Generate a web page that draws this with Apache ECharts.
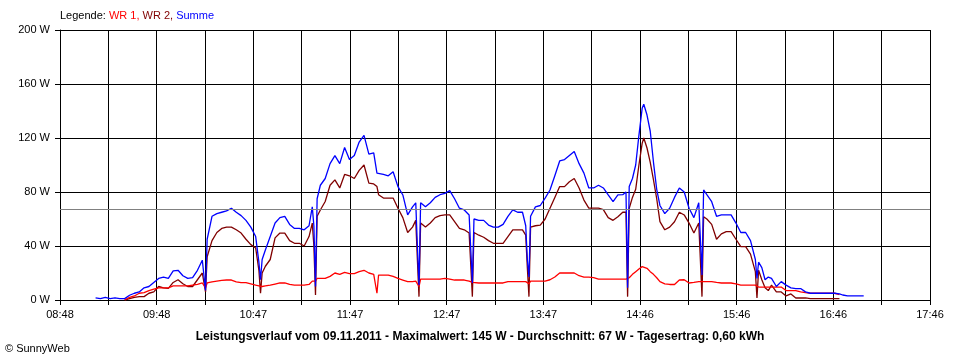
<!DOCTYPE html>
<html>
<head>
<meta charset="utf-8">
<script src="https://cdn.jsdelivr.net/npm/echarts@6/dist/echarts.min.js"></script>
<style>
html,body{margin:0;padding:0;background:#fff;}
#chart{width:960px;height:360px;}
</style>
</head>
<body>
<div id="chart"></div>
<script>
// ---- data ----
const axisStart = "08:48";
const axisEnd = "17:46";
const tickCount = 18;
const tickLabels = ["08:48","09:48","10:47","11:47","12:47","13:47","14:46","15:46","16:46","17:46"];
const yMax = 200;
const yInterval = 40;

const dateText = "09.11.2011";
const maxValue = 145;
const average = 67;
const dailyYield = "0,60";

const times = ["09:10","09:13","09:16","09:19","09:22","09:25","09:28","09:31","09:34","09:37","09:40","09:43","09:46","09:49","09:52","09:55","09:58","10:01","10:04","10:07","10:10","10:13","10:16","10:18","10:19","10:22","10:25","10:28","10:31","10:34","10:37","10:40","10:43","10:46","10:49","10:51","10:52","10:53","10:55","10:58","11:01","11:04","11:07","11:10","11:13","11:16","11:19","11:22","11:24","11:25","11:26","11:27","11:29","11:32","11:35","11:38","11:41","11:44","11:47","11:50","11:53","11:56","11:59","12:02","12:04","12:05","12:08","12:11","12:14","12:17","12:20","12:23","12:26","12:28","12:29","12:30","12:31","12:34","12:37","12:40","12:43","12:46","12:49","12:52","12:55","12:58","13:01","13:03","13:04","13:07","13:10","13:13","13:16","13:19","13:22","13:25","13:28","13:31","13:34","13:36","13:37","13:38","13:39","13:42","13:45","13:48","13:51","13:54","13:57","14:00","14:03","14:06","14:09","14:12","14:15","14:18","14:21","14:24","14:27","14:30","14:33","14:36","14:38","14:39","14:40","14:42","14:44","14:46","14:48","14:49","14:51","14:53","14:55","14:57","14:59","15:02","15:05","15:08","15:11","15:14","15:17","15:20","15:23","15:25","15:26","15:28","15:31","15:34","15:37","15:40","15:43","15:46","15:49","15:52","15:55","15:58","15:59","16:00","16:02","16:04","16:06","16:08","16:11","16:14","16:17","16:20","16:23","16:26","16:29","16:32","16:35","16:38","16:41","16:44","16:47","16:50","16:52","16:55","16:58","17:01","17:04","17:05"];

// WR 1 (red)
const wr1 = [null,null,null,null,null,null,0,2,3,5,5.5,7,8,9,9,9,10.4,10.4,10.4,10.4,11,11.5,12.6,9,12.6,13.5,14,14.5,14.8,14.8,13.5,12.8,12.8,12,11,10.5,10,10,10.4,11,11.8,12.6,12.6,11.5,11,11,11,11.5,14,14.8,14,16,16,16,17.5,20,19,20.5,19.5,19.5,21,22,20,19,5,18.5,18.5,18.5,17.5,16,14.8,13.6,13.6,14,14,10,15.5,15.5,15.5,15.5,15.5,16,15.5,14.8,14.8,14.8,14,13,13.6,12.6,12.6,12.6,12.6,12.6,12.6,13.6,13.6,13.6,13.6,13.6,13,12,14,14,14,14,15,17,20,20,20,20,18,17,17,16.5,15.5,15.5,15.5,15.5,15.5,15.5,15.5,16,16.5,19,21,23,24.7,24.7,23.5,21,19,16.5,13.6,12,11.5,11.5,14.8,15,12.6,13,13.6,13.6,13.6,13.6,13.6,13,12.6,12.6,12.6,12,11,11,11,11,10.5,9.6,9.6,9.6,9.6,9.6,9.6,9.6,7,7,7,6,5.4,5,5,5,5,5,5,4,null,null,null,null,null,null];

// WR 2 (dark red)
const wr2 = [null,null,null,null,null,null,0,1,2,2.5,2.5,5,6,10,9,8.6,13,15,12,10,10,15,20,6,32,44,50,53,54,54,52,49.6,45,41,38.5,22,5,20,25,30,46,49.6,49.6,44,42,42,40,47,57,40,3.7,62,66.7,73,85,89,83,93,92,90,96,100,86.6,86,84,78,75.5,75.5,75.5,68,61,50,54,59,30,2.5,57,54,57,61,62.5,63,63,58,53,52,49.6,2.5,50,48,46.5,44,42,42,42,47,52,52,52,48,24,2.5,54,55,55.5,60,68,76,84,84,87.6,90,83,74,68,68,68,67,61,59,61.7,65,65,2.5,68,76,82,100,116,120,112.6,102,89,75,58,52,54,58,65,63,57,49.6,57,2.5,61.7,60,56,45,49,50.6,50.6,45,39.5,39.5,34,21,1.5,22,15,9,7,11,6,6,3,4.5,1.5,1.5,1.5,1,1,1,1,1,1,1,null,null,null,null,null,null];

// Summe (blue)
const summe = [1.5,1,2,1,1.5,1,1,3.5,5,6,9,10,13,16,17,16,21.5,22,18,16,16.5,22,29.5,7,45,62,64,65,66,68,65,62.5,59,54,47,28,15,30,37,47,57,61,62,56,53,53,52,55,69,55,10,75,85,90,101,107,101,113,104,107,117,122,108,109,94,95,93,92,95,84,77.8,63,69,72,40,11,72,69,72,76,78,79,81,75,68,66.7,63,12.6,60,59,59,55.5,54,54,56,62,66.7,65,65,55,30,17,62,69,70,75.5,81.5,92,103,104,107,110,101,94,83,83,85,83,77.8,72.8,77.8,78,80,9,84,90,100,122,142,145,137,125,102,82,70,64,68,76,83,80,68,61,72,18.5,81.5,78,72.8,62,63,63,63,57,50,50,44,30,16,28,24,15,17,16,10,13.6,11,9,8.5,8.5,6,5,5,5,5,5,5,4.5,3.7,3,3,3,3,3,0];

// ---- build ----
function toMin(s){const p=s.split(':');return (+p[0])*60+(+p[1]);}
const t0 = toMin(axisStart);
const span = toMin(axisEnd) - t0;
const iv = span / tickCount;
function pairs(vals){
  const out=[];
  for(let i=0;i<times.length;i++){ if(vals[i]!==null && vals[i]!==undefined) out.push([toMin(times[i])-t0, vals[i]]); }
  return out;
}
const FONT = '"Liberation Sans", Arial, sans-serif';
const chart = echarts.init(document.getElementById('chart'), null, {renderer:'canvas'});
chart.setOption({
  animation:false,
  backgroundColor:'#ffffff',
  grid:{left:60,right:30,top:30,bottom:60,containLabel:false},
  xAxis:{
    type:'value', min:0, max:span, interval:iv,
    axisLine:{show:true,lineStyle:{color:'#000',width:1}},
    axisTick:{show:true,length:5,lineStyle:{color:'#000',width:1}},
    splitLine:{show:true,lineStyle:{color:'#000',width:1}},
    axisLabel:{
      color:'#000', fontSize:11, fontFamily:FONT, margin:9,
      showMinLabel:true, showMaxLabel:true,
      formatter:function(v){const i=Math.round(v/iv); return (i%2===0)? (tickLabels[i/2]||'') : '';}
    }
  },
  yAxis:{
    type:'value', min:0, max:yMax, interval:yInterval,
    axisLine:{show:true,lineStyle:{color:'#000',width:1}},
    axisTick:{show:true,length:5,lineStyle:{color:'#000',width:1}},
    splitLine:{show:true,lineStyle:{color:'#000',width:1}},
    axisLabel:{color:'#000', fontSize:11, fontFamily:FONT, margin:10, formatter:'{value} W'}
  },
  series:[
    {name:'WR 2', type:'line', data:pairs(wr2), showSymbol:false, symbol:'none',
     lineStyle:{color:'#800000',width:1.3}, itemStyle:{color:'#800000'}, silent:true,
     markLine:{silent:true, symbol:['none','none'], label:{show:false},
       lineStyle:{color:'#808080',type:'solid',width:1}, emphasis:{disabled:true},
       data:[{yAxis:average}]}},
    {name:'WR 1', type:'line', data:pairs(wr1), showSymbol:false, symbol:'none',
     lineStyle:{color:'#ff0000',width:1.3}, itemStyle:{color:'#ff0000'}, silent:true},
    {name:'Summe', type:'line', data:pairs(summe), showSymbol:false, symbol:'none',
     lineStyle:{color:'#0000ff',width:1.3}, itemStyle:{color:'#0000ff'}, silent:true}
  ],
  graphic:[
    {type:'text', x:60, y:16, silent:true, style:{
      text:'{a|Legende: }{b|WR 1, }{c|WR 2, }{d|Summe}',
      verticalAlign:'middle', align:'left',
      font:'11px '+FONT,
      rich:{a:{fill:'#000',fontSize:11,fontFamily:FONT},b:{fill:'#ff0000',fontSize:11,fontFamily:FONT},
            c:{fill:'#800000',fontSize:11,fontFamily:FONT},d:{fill:'#0000ff',fontSize:11,fontFamily:FONT}}
    }},
    {type:'text', x:480, y:337, silent:true, style:{
      text:'Leistungsverlauf vom '+dateText+' - Maximalwert: '+maxValue+' W - Durchschnitt: '+average+' W - Tagesertrag: '+dailyYield+' kWh',
      align:'center', verticalAlign:'middle', fill:'#000', font:'bold 12px '+FONT
    }},
    {type:'text', x:5, y:349, silent:true, style:{
      text:'\u00A9 SunnyWeb', align:'left', verticalAlign:'middle', fill:'#000', font:'11px '+FONT
    }}
  ]
});
</script>
</body>
</html>
